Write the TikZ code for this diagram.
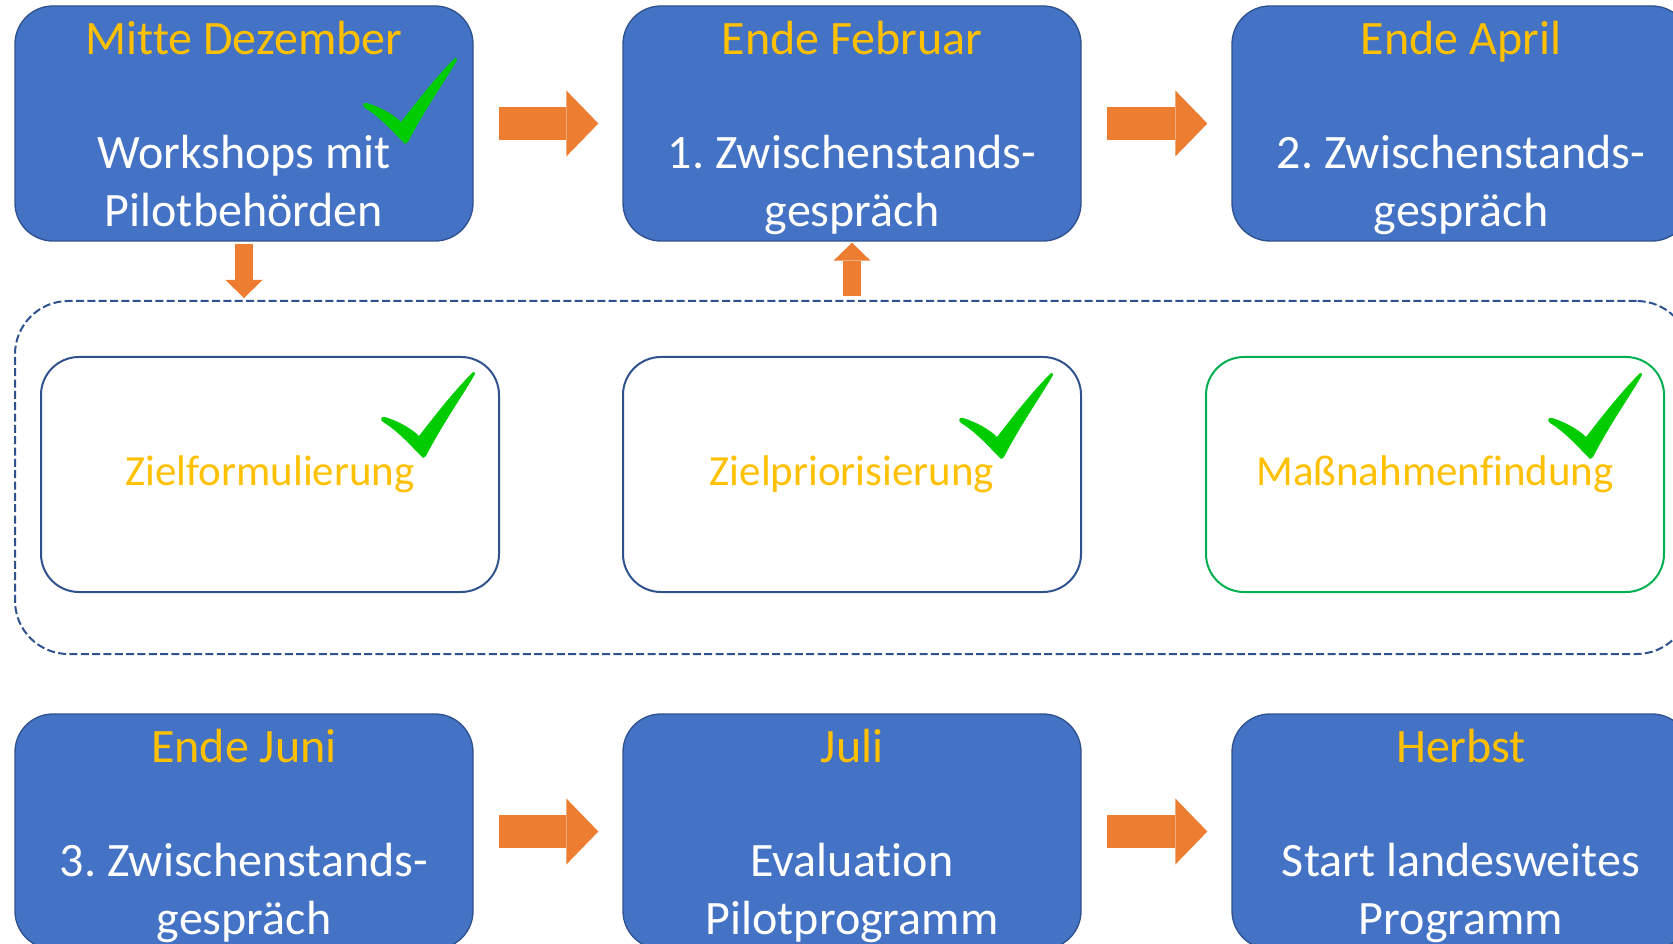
\documentclass[tikz,border=0pt]{standalone}
\usepackage{fontspec}
\setmainfont{Carlito}[Ligatures=NoCommon]
\usetikzlibrary{arrows.meta}
\definecolor{boxblau}{HTML}{4472C4}
\definecolor{randblau}{HTML}{2F528F}
\definecolor{datumgelb}{HTML}{FFC000}
\definecolor{pfeilorange}{HTML}{ED7D31}
\definecolor{hakengruen}{HTML}{00CC00}
\definecolor{rahmengruen}{HTML}{00B050}
\newcommand\datum[1]{{\color{datumgelb}#1}}
\frenchspacing

\begin{document}
\begin{tikzpicture}[x=0.75pt, y=-0.75pt,
	every node/.style = {font=\fontsize{36pt}{43pt}\selectfont,
		align=center, inner sep=0pt},
	zeitpunkt/.style = {shape=rectangle, rounded corners=28.5pt,
		draw=randblau, line width=1pt, fill=boxblau, text=white,
		minimum width=343.5pt, minimum height=176.25pt},
	phase/.style = {shape=rectangle, rounded corners=28.5pt,
		draw=randblau, line width=1.5pt, fill=white, text=datumgelb,
		minimum width=343.5pt, minimum height=176.25pt,
		font=\fontsize{32.2pt}{38pt}\selectfont},
	rahmen/.style = {shape=rectangle, rounded corners=40pt,
		draw=randblau, line width=1.5pt, dash pattern=on 6pt off 2.5pt,
		minimum width=1256.25pt, minimum height=264.75pt},
	pfeil/.style = {draw=pfeilorange, line width=24.75pt,
		-{Triangle[length=24pt, width=49.5pt, line width=0pt]},
		shorten <=18.75pt, shorten >=18pt},
	pfeilklein/.style = {draw=pfeilorange, line width=13.5pt,
		-{Triangle[length=13.5pt, width=27.75pt, line width=0pt]}},
	haken/.pic = {\fill[hakengruen] (0,0) .. controls (-12,-12) and (-25,-27) .. (-40,-36)
		.. controls (-43,-38) and (-42,-42) .. (-38,-41)
		.. controls (-25,-37) and (-12,-30) .. (-4,-22)
		.. controls (10,-40) and (30,-66) .. (50,-86)
		.. controls (51,-86) and (53,-85) .. (52,-84)
		.. controls (42,-66) and (20,-35) .. (3,-2) -- cycle;}]
	\useasboundingbox (0,0) rectangle (1673,944);
	\clip (0,0) rectangle (1673,944);

	% Rahmen um die Arbeitsphasen
	\node[rahmen] (phasen) at (852.5,477.5) {};

	% Zeitpunkte
	\node[zeitpunkt] (dez) at (244,123.5) {\datum{Mitte Dezember}\\[43pt] Workshops mit\\ \smash{Pilotbehörden}};
	\node[zeitpunkt] (feb) at (852,123.5) {\datum{Ende Februar}\\[43pt] 1. Zwischenstands-\\ \smash{gespräch}};
	\node[zeitpunkt] (apr) at (1461,123.5) {\datum{Ende April}\\[43pt] 2. Zwischenstands-\\ \smash{gespräch}};
	\node[zeitpunkt] (jun) at (244,831.5) {\datum{Ende Juni}\\[43pt] 3. Zwischenstands-\\ \smash{gespräch}};
	\node[zeitpunkt] (jul) at (852,831.5) {\datum{Juli}\\[43pt] Evaluation\\ \smash{Pilotprogramm}};
	\node[zeitpunkt] (herbst) at (1461,831.5) {\datum{Herbst}\\[43pt] Start landesweites\\ \smash{Programm}};

	% Arbeitsphasen
	\node[phase] (ziel) at (270,474.5) {Zielformulierung};
	\node[phase] (prio) at (852,474.5) {Zielpriorisierung};
	\node[phase, draw=rahmengruen] (mass) at (1435,474.5) {Maßnahmenfindung};

	% Pfeile
	\draw[pfeil] (dez) -- (feb);
	\draw[pfeil] (feb) -- (apr);
	\draw[pfeil] (jun) -- (jul);
	\draw[pfeil] (jul) -- (herbst);
	\draw[pfeilklein, shorten <=1.5pt, shorten >=1.5pt] (dez) -- (dez |- phasen.north);
	\draw[pfeilklein, shorten <=3pt, shorten >=0.75pt] (feb |- phasen.north) -- (feb);

	% erledigt
	\pic at (405,144) {haken};
	\pic at (423,458) {haken};
	\pic at (1001,459) {haken};
	\pic at (1590,459) {haken};
\end{tikzpicture}
\end{document}
